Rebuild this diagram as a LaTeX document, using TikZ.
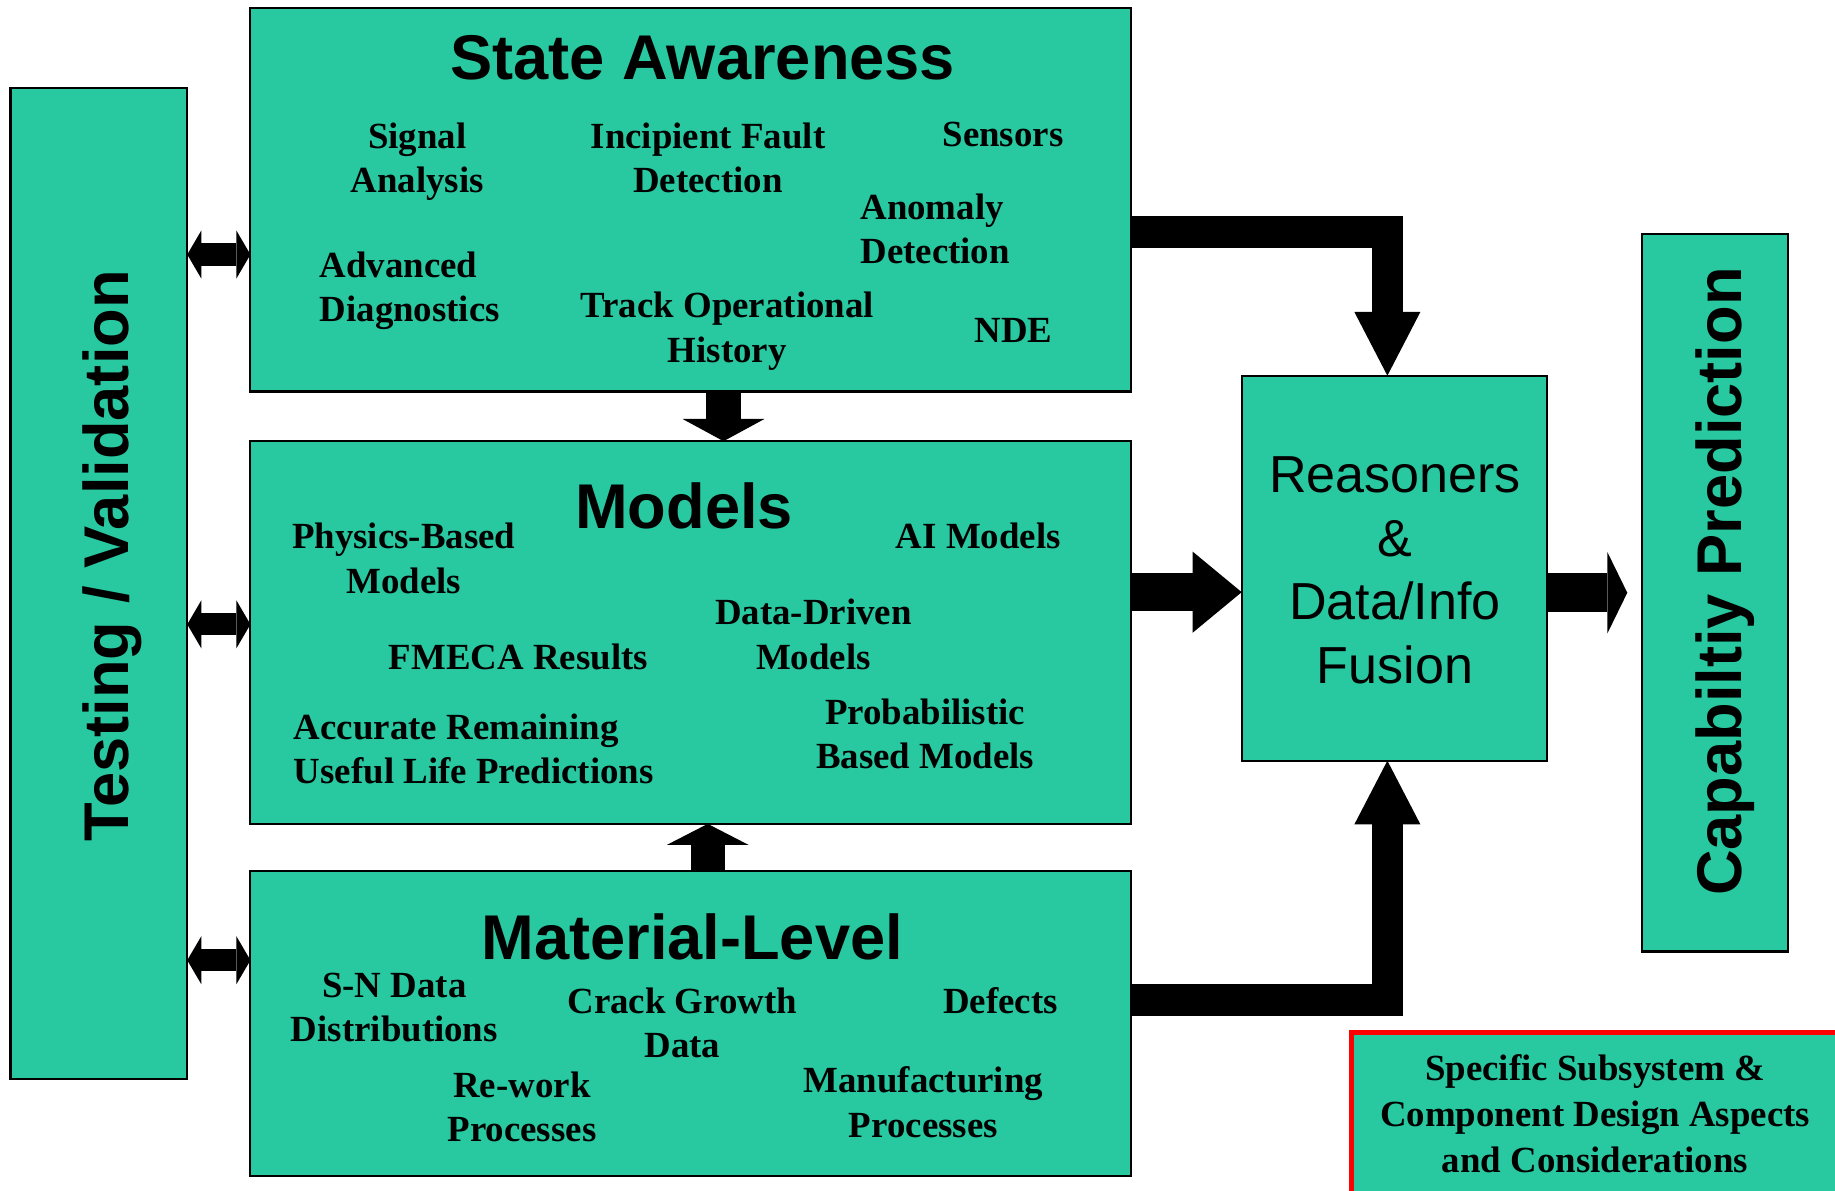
\documentclass[tikz,border=0pt]{standalone}
\usepackage{fontspec}
\setmainfont{Liberation Serif}
\newfontfamily\arialfont{Liberation Sans}
\usetikzlibrary{arrows.meta,calc}
\definecolor{tealfill}{RGB}{40,200,160}
\definecolor{redline}{RGB}{255,0,0}
\tikzset{
  TipD/.tip={Triangle[length=12pt 0 0,width=41pt 0 0,line width=0pt 0 0]},
  TipV/.tip={Triangle[length=19pt 0 0,width=70pt 0 0,line width=0pt 0 0]},
  TipU/.tip={Triangle[length=18pt 0 0,width=70pt 0 0,line width=0pt 0 0]},
  TipE/.tip={Triangle[length=54.5pt 0 0,width=56.5pt 0 0,line width=0pt 0 0]},
  TipH/.tip={Triangle[length=42pt 0 0,width=69.5pt 0 0,line width=0pt 0 0]},
  TipR/.tip={Triangle[length=17pt 0 0,width=69.5pt 0 0,line width=0pt 0 0]},
}
\begin{document}
\begin{tikzpicture}[x=1pt,y=-1pt,
  box/.style={rectangle,draw=black,line width=1.8pt,fill=tealfill,inner sep=0pt,outer sep=0pt},
  redbox/.style={rectangle,draw=redline,line width=4.3pt,fill=tealfill,inner sep=0pt,outer sep=0pt},
  ttl/.style={font=\arialfont\bfseries\fontsize{54}{60}\selectfont,inner sep=0pt,anchor=base},
  vttl/.style={font=\arialfont\bfseries\fontsize{54}{60}\selectfont,inner sep=0pt,rotate=90},
  itm/.style={font=\bfseries\fontsize{31.5}{37.8}\selectfont,inner sep=0pt,anchor=base,align=center},
  itml/.style={font=\bfseries\fontsize{31.5}{37.8}\selectfont,inner sep=0pt,anchor=base west,align=left},
  blk/.style={draw=black,line join=miter,line cap=butt},
]
\useasboundingbox (0,0) rectangle (1568,1016.9);
\clip (0,0) rectangle (1568,1016.9);

% boxes
\node[box,minimum width=151pt,minimum height=847pt] (tv) at (84.5,498.5) {};
\node[box,minimum width=752.5pt,minimum height=327.5pt] (sa) at (590.25,170.75) {};
\node[box,minimum width=752.5pt,minimum height=327pt] (mo) at (590.25,540.5) {};
\node[box,minimum width=752.5pt,minimum height=261pt] (ml) at (590.25,874.5) {};
\node[box,minimum width=261pt,minimum height=329pt] (re) at (1191.5,485.5) {};
\node[box,minimum width=125pt,minimum height=613pt] (cp) at (1465.5,506.5) {};
\node[redbox,minimum width=445pt,minimum height=178pt] (sp) at (1377.5,971) {};

% rotated titles
\node[vttl] (tvT) at (96,475) {Testing / Validation};
\node[vttl] (cpT) at (1474,497) {Capabiltiy Prediction};

% State Awareness (anchor base = baseline of the last line)
\node[ttl] (saT) at (600.5,68) {State Awareness};
\node[itm] (sa1) at (356.5,164.7) {Signal\\Analysis};
\node[itm] (sa2) at (605,164.7) {Incipient Fault\\Detection};
\node[itm] (sa3) at (857,125.5) {Sensors};
\node[itml] (sa4) at (735,225) {Anomaly\\Detection};
\node[itml] (sa5) at (273,275) {Advanced\\Diagnostics};
\node[itm] (sa6) at (621.5,309.5) {Track Operational\\History};
\node[itm] (sa7) at (866,293) {NDE};

% Models
\node[ttl] (moT) at (584.5,452) {Models};
\node[itm] (mo1) at (345,506.8) {Physics-Based\\Models};
\node[itm] (mo2) at (836,469) {AI Models};
\node[itm] (mo3) at (695,571.8) {Data-Driven\\Models};
\node[itm] (mo4) at (443,572) {FMECA Results};
\node[itml] (mo5) at (251,669.8) {Accurate Remaining\\Useful Life Predictions};
\node[itm] (mo6) at (790.5,656.8) {Probabilistic\\Based Models};

% Material-Level
\node[ttl] (mlT) at (591.5,820) {Material-Level};
\node[itm] (ml1) at (337,889.8) {S-N Data\\Distributions};
\node[itm] (ml2) at (583,903.8) {Crack Growth\\Data};
\node[itm] (ml3) at (855,866) {Defects};
\node[itm] (ml4) at (446,975.5) {Re-work\\Processes};
\node[itm] (ml5) at (789,971.6) {Manufacturing\\Processes};

% Reasoners
\node[font=\arialfont\fontsize{44.5}{54.3}\selectfont,align=center,anchor=base,inner sep=0pt] (reT) at (1192,584) {Reasoners\\\&\\Data/Info\\Fusion};

% Specific subsystem
\node[font=\bfseries\fontsize{31.5}{39}\selectfont,inner sep=0pt,anchor=base,align=center] (spT) at (1363,1001.5) {Specific Subsystem \&\\Component Design Aspects\\and Considerations};

% double arrows to Testing / Validation
\draw[blk,line width=19pt,{TipD}-{TipD}] ([yshift=-46.75pt]sa.west -| tv.east) -- ([yshift=-46.75pt]sa.west);
\draw[blk,line width=19pt,{TipD}-{TipD}] ([yshift=7pt]mo.west -| tv.east) -- ([yshift=7pt]mo.west);
\draw[blk,line width=19pt,{TipD}-{TipD}] ([yshift=54pt]ml.west -| tv.east) -- ([yshift=54pt]ml.west);

% vertical arrows between the left boxes
\draw[blk,line width=30pt,-{TipV}] ([xshift=28pt]sa.south) -- ([xshift=28pt]mo.north);
\draw[blk,line width=29pt,-{TipU}] ([xshift=14.5pt]ml.north) -- ([xshift=14.5pt]mo.south);

% elbows into the Reasoners box
\draw[blk,line width=27pt,-{TipE}] ([yshift=-27.25pt]sa.east) -| ([xshift=-6pt]re.north);
\draw[blk,line width=27pt,-{TipE}] ([yshift=20pt]ml.east) -| ([xshift=-6pt]re.south);

% horizontal arrows
\draw[blk,line width=33pt,-{TipH}] ([yshift=34.5pt]mo.east) -- ([yshift=34.5pt]mo.east -| re.west);
\draw[blk,line width=33pt,-{TipR}] (re.east |- cp.west) -- ([xshift=-12.5pt]cp.west);
\end{tikzpicture}
\end{document}
